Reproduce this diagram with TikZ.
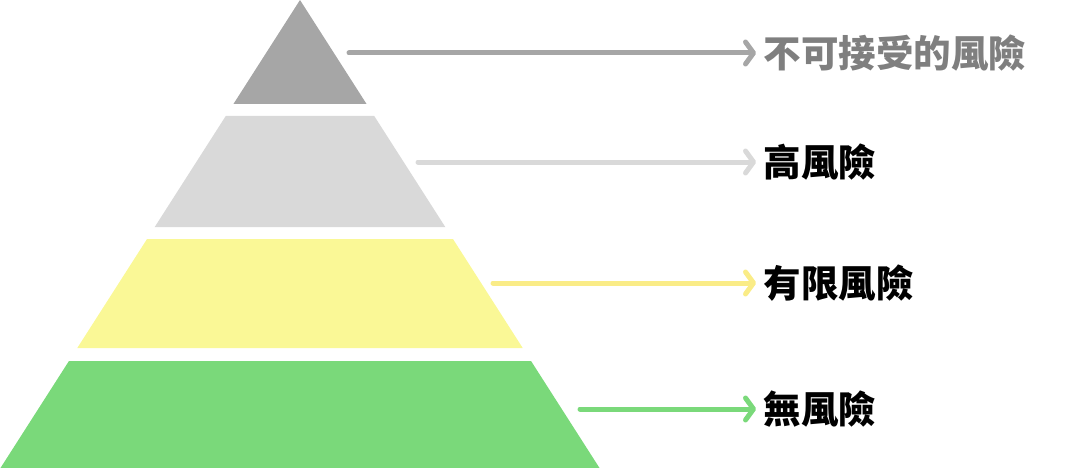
\documentclass[tikz,border=0pt]{standalone}
\usepackage{fontspec}
\newfontfamily\cjk{Noto Sans CJK TC}
\usetikzlibrary{arrows.meta}

\definecolor{topgray}{HTML}{A6A6A6}
\definecolor{highgray}{HTML}{D9D9D9}
\definecolor{limityellow}{HTML}{FAF896}
\definecolor{nogreen}{HTML}{7AD97A}
\definecolor{labelgray}{HTML}{7F7F7F}

\begin{document}
\begin{tikzpicture}[x=1pt,y=-1pt,line width=5pt]
            \tikzstyle{pointer}=[-{Straight Barb[length=8pt,width=22pt,round]},line cap=round,shorten >=5pt]
            \tikzstyle{annot}=[anchor=west,inner sep=0pt,font=\cjk\bfseries\fontsize{37.5}{40}\selectfont]

            \useasboundingbox (0,0) rectangle (1073,468);

            % Draw the layers of the pyramid, widest at the bottom
            \foreach \name/\top/\bottom/\col in {A/0/104/topgray, B/116/227/highgray, C/239/348/limityellow, D/361/468/nogreen}
                \fill[\col] ({300-0.64*\top},\top) -- ({300+0.64*\top},\top)
                    -- ({300+0.64*\bottom},\bottom) -- ({300-0.64*\bottom},\bottom) -- cycle;

            % Draw the labels
            \node[annot,text=labelgray] (L-A) at (761,53) {不可接受的風險};
            \node[annot] (L-B) at (761,162) {高風險};
            \node[annot] (L-C) at (761,283) {有限風險};
            \node[annot] (L-D) at (761,409) {無風險};

            % Start points beside each layer
            \foreach \name/\x/\y in {A/349/53, B/418/162, C/493/283, D/580/409}
                \coordinate (S-\name) at (\x,\y);

            % Connect every layer with its label
            \foreach \name/\col in {A/topgray, B/highgray, C/limityellow!90!orange, D/nogreen}
                \draw[pointer,\col] (S-\name) -- (L-\name.west);
        \end{tikzpicture}
\end{document}
